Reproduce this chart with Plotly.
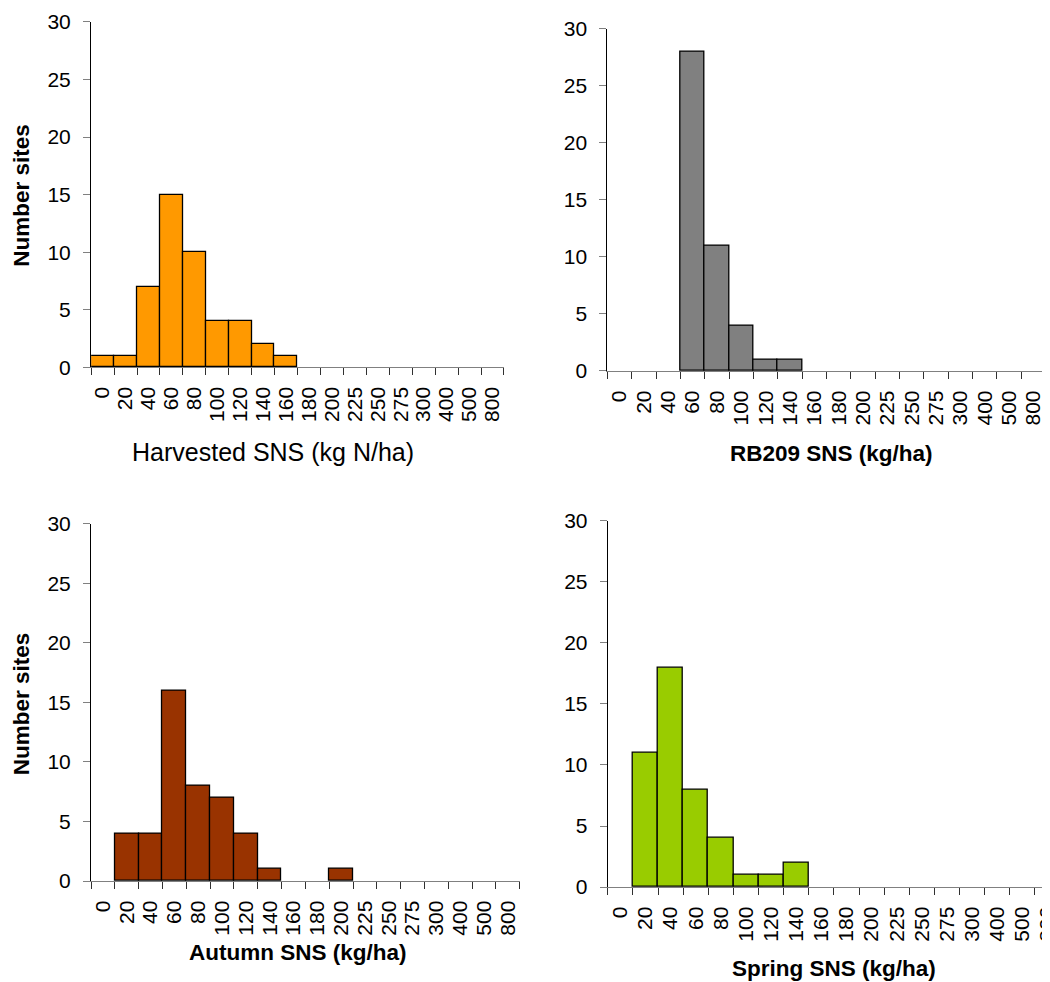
import plotly.graph_objects as go

W, H = 1050, 982

categories = ["0", "20", "40", "60", "80", "100", "120", "140", "160", "180",
              "200", "225", "250", "275", "300", "400", "500", "800"]

harvested = [1, 1, 7, 15, 10, 4, 4, 2, 1, 0, 0, 0, 0, 0, 0, 0, 0, 0]
rb209 = [0, 0, 0, 28, 11, 4, 1, 1, 0, 0, 0, 0, 0, 0, 0, 0, 0, 0]
autumn = [0, 4, 4, 16, 8, 7, 4, 1, 0, 0, 1, 0, 0, 0, 0, 0, 0, 0]
spring = [0, 11, 18, 8, 4, 1, 1, 2, 0, 0, 0, 0, 0, 0, 0, 0, 0, 0]

titles = ["Harvested SNS (kg N/ha)", "RB209 SNS (kg/ha)",
          "Autumn SNS (kg/ha)", "Spring SNS (kg/ha)"]
colors = ["#FF9900", "#808080", "#993300", "#99CC00"]
series = [harvested, rb209, autumn, spring]

FONT = "Liberation Sans, Arial, sans-serif"

# observed page mapping: the plot canvas shows at (8, 18) with size 1042 x 960
OX, OY, CW, CH = 8.0, 18.0, 1042.0, 960.0


def fx(sx):
    return min(1.0, max(0.0, (sx - OX) / CW))


def fy(sy):
    return min(1.0, max(0.0, 1 - (sy - OY) / CH))


# plot-area boxes in screen pixels: (left, right, top, bottom), x-range end
boxes = [
    (90, 502, 20, 365.7, 17.5),
    (605.3, 1042.7, 26.7, 369.3, 17.5),
    (90, 517.7, 522.3, 880, 17.5),
    (605.7, 1050, 519.3, 886, 17.22),
]

fig = go.Figure()
layout = dict()
for i, (vals, col, box) in enumerate(zip(series, colors, boxes)):
    l, r, t, b, xend = box
    n = "" if i == 0 else str(i + 1)
    fig.add_trace(go.Bar(
        x=categories, y=[v if v else None for v in vals],
        marker=dict(color=col, line=dict(color="black", width=1.3)),
        xaxis="x" + n, yaxis="y" + n, showlegend=False,
    ))
    layout["xaxis" + n] = dict(
        domain=[fx(l), fx(r)], anchor="y" + n,
        type="category", categoryorder="array", categoryarray=categories,
        tickmode="array", tickvals=categories, ticktext=categories,
        range=[-0.5, xend], tickson="boundaries",
        ticks="outside", ticklen=7, tickcolor="#303030", tickwidth=1,
        showline=True, linecolor="#808080", linewidth=1.3,
        showgrid=False, zeroline=False, tickangle=-90,
        tickfont=dict(family=FONT, size=21, color="black"),
        ticklabelstandoff=10,
    )
    layout["yaxis" + n] = dict(
        domain=[fy(b), fy(t)], anchor="x" + n,
        range=[0, 30], dtick=5, tick0=0,
        ticks="outside", ticklen=7, tickcolor="#808080", tickwidth=1,
        showline=True, linecolor="black", linewidth=1.3,
        showgrid=False, zeroline=False,
        tickfont=dict(family=FONT, size=21, color="black"),
        ticklabelstandoff=8,
    )

annotations = []
# x-axis titles: (center x, center y, size, bold) in screen pixels
title_pos = [(271.5, 450, 25, False), (828.5, 452, 22.5, True),
             (296.5, 951, 22.5, True), (831, 967, 22.5, True)]
for txt, (cx, cy, sz, bold) in zip(titles, title_pos):
    annotations.append(dict(
        text=("<b>%s</b>" % txt) if bold else txt,
        x=fx(cx), y=fy(cy), xref="paper", yref="paper",
        xanchor="center", yanchor="middle", showarrow=False,
        font=dict(family=FONT, size=sz, color="black"),
    ))
for cy in (193.5, 702.5):
    annotations.append(dict(
        text="<b>Number sites</b>", x=fx(20.5), y=fy(cy),
        xref="paper", yref="paper", xanchor="center", yanchor="middle",
        showarrow=False, textangle=-90,
        font=dict(family=FONT, size=22.5, color="black"),
    ))

fig.update_layout(
    width=W, height=H, margin=dict(l=0, r=0, t=0, b=0),
    paper_bgcolor="white", plot_bgcolor="white",
    bargap=0, annotations=annotations, **layout,
)

fig.write_html("out.html")
